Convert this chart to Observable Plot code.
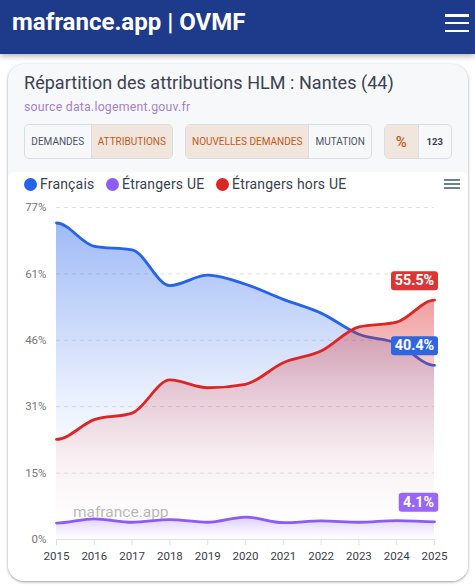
<!DOCTYPE html>
<html lang="fr">
<head>
<meta charset="utf-8">
<script src="https://cdn.jsdelivr.net/npm/d3@7"></script>
<script src="https://cdn.jsdelivr.net/npm/@observablehq/plot@0.6"></script>
<style>
html,body{margin:0;padding:0;background:#fff;width:475px;height:586px;overflow:hidden;font-family:Roboto,sans-serif}
#header{position:absolute;left:0;top:0;width:475px;height:54px;background:#1e3a8a;box-shadow:0 2px 6px rgba(0,0,0,.3);z-index:3}
#brand{position:absolute;left:12px;top:7px;font-size:24px;line-height:30px;font-weight:700;color:#fff}
.bars{position:absolute;display:flex;flex-direction:column;justify-content:space-between}
.bars i{display:block}
#burger{left:445px;top:14px;width:24px;height:18px}
#burger i{height:2.5px;background:#fff}
#card{position:absolute;left:8px;top:64px;width:460px;height:517px;border-radius:16px;background:#f7f8fa;box-shadow:0 1px 3px rgba(0,0,0,.4);overflow:hidden}
#chartbg{position:absolute;left:0;top:108px;width:460px;height:409px;background:#fff;border-radius:6px 6px 0 0}
#title{position:absolute;left:24px;top:71px;font-size:18px;line-height:24px;letter-spacing:.04px;color:#3b4252;white-space:nowrap}
#source{position:absolute;left:24px;top:99px;font-size:12.3px;line-height:16px;letter-spacing:.22px;color:#a67fd0;white-space:nowrap}
.grp{position:absolute;top:124px;height:35px;box-sizing:border-box;border:1px solid #d9dce1;border-radius:5px;display:flex;overflow:hidden}
.grp span{display:flex;align-items:center;justify-content:center;height:100%;font-size:10px;color:#4b5563;box-sizing:border-box}
.grp span.on{background:#f0e6dd;color:#c2591a}
.grp span+span{border-left:1px solid #d9dce1}
#legend{position:absolute;left:0;top:175px;height:18px;font-size:14px;line-height:18px;color:#374151;letter-spacing:.18px}
.li{position:absolute;top:0;white-space:nowrap;padding-left:16px}
.li b{position:absolute;left:0;top:2.5px;width:13px;height:13px;border-radius:50%}
#menu{left:444px;top:179px;width:16px;height:10px}
#menu i{height:1.6px;background:#6e8192}
#chart{position:absolute;left:0;top:195px;z-index:2}
#chart svg{display:block;overflow:visible}
</style>
</head>
<body>
<div id="card"><div id="chartbg"></div></div>
<div id="header"><div id="brand">mafrance.app | OVMF</div><div id="burger" class="bars"><i></i><i></i><i></i></div></div>
<div id="title">Répartition des attributions HLM : Nantes (44)</div>
<div id="source">source data.logement.gouv.fr</div>
<div class="grp" style="left:24px;width:149px"><span style="width:66px">DEMANDES</span><span class="on" style="width:82px">ATTRIBUTIONS</span></div>
<div class="grp" style="left:185px;width:187px"><span class="on" style="width:123px">NOUVELLES DEMANDES</span><span style="width:63px">MUTATION</span></div>
<div class="grp" style="left:384px;width:68px"><span class="on" style="width:33px;font-size:15px;font-weight:500">%</span><span style="width:34px;font-size:9.5px;font-weight:700;color:#374151">123</span></div>
<div id="legend">
  <div class="li" style="left:24px"><b style="background:#2563eb"></b>Français</div>
  <div class="li" style="left:106px"><b style="background:#8b5cf6"></b>Étrangers UE</div>
  <div class="li" style="left:216px"><b style="background:#dc2626"></b>Étrangers hors UE</div>
</div>
<div id="menu" class="bars"><i></i><i></i><i></i></div>
<div id="chart"></div>
<script>
const years = [2015,2016,2017,2018,2019,2020,2021,2022,2023,2024,2025];
const francais = [73.4,68.0,67.2,58.9,61.3,59.2,55.7,52.5,47.6,45.5,40.4];
const etrangersUE = [3.8,4.8,4.0,4.6,4.0,5.2,3.9,4.3,4.0,4.4,4.1];
const etrangersHorsUE = [23.2,27.8,29.3,37.0,35.2,36.0,41.0,43.7,49.3,50.4,55.5];
const yTicks = [0,15.4,30.8,46.2,61.6,77];
const yTickLabels = ["0%","15%","31%","46%","61%","77%"];
const BLUE="#2563eb", PURPLE="#8b5cf6", RED="#dc2626";

const toRows = vals => years.map((year,i)=>({year,value:vals[i]}));
const last = vals => [{year:years[years.length-1],value:vals[vals.length-1]}];

// Monotone cubic curve whose two end tangents are horizontal.
function flatEndMonotone(context){
  let xs,ys,line;
  return {
    areaStart(){line=0;},
    areaEnd(){line=NaN;},
    lineStart(){xs=[];ys=[];},
    point(x,y){xs.push(+x);ys.push(+y);},
    lineEnd(){
      const n=xs.length;
      if(n){
        const m=new Array(n).fill(0);
        for(let i=1;i<n-1;i++){
          const h0=xs[i]-xs[i-1],h1=xs[i+1]-xs[i];
          const s0=(ys[i]-ys[i-1])/h0,s1=(ys[i+1]-ys[i])/h1;
          const p=(s0*h1+s1*h0)/(h0+h1);
          m[i]=(Math.sign(s0)+Math.sign(s1))*Math.min(Math.abs(s0),Math.abs(s1),.5*Math.abs(p));
        }
        if(line) context.lineTo(xs[0],ys[0]); else context.moveTo(xs[0],ys[0]);
        for(let i=1;i<n;i++){
          const h=(xs[i]-xs[i-1])/3;
          context.bezierCurveTo(xs[i-1]+h,ys[i-1]+m[i-1]*h,xs[i]-h,ys[i]-m[i]*h,xs[i],ys[i]);
        }
      }
      if(line===1) context.closePath();
      line=1-line;
    }
  };
}
function badge(w,h,rad){
  return {draw(ctx){
    const x=-w/2,y=-h/2;
    ctx.moveTo(x+rad,y);
    ctx.lineTo(x+w-rad,y);ctx.arcTo(x+w,y,x+w,y+rad,rad);
    ctx.lineTo(x+w,y+h-rad);ctx.arcTo(x+w,y+h,x+w-rad,y+h,rad);
    ctx.lineTo(x+rad,y+h);ctx.arcTo(x,y+h,x,y+h-rad,rad);
    ctx.lineTo(x,y+rad);ctx.arcTo(x,y,x+rad,y,rad);
    ctx.closePath();
  }};
}
function defs(){
  const d=d3.create("svg:defs");
  [["gB",BLUE,[[0,.44],[.35,.22],[.55,.1],[.75,.02],[1,0]]],
   ["gP",PURPLE,[[0,.3],[.5,.12],[1,0]]],
   ["gR",RED,[[0,.44],[.35,.2],[.65,.06],[.85,.012],[1,0]]]].forEach(([id,c,stops])=>{
    const g=d.append("linearGradient").attr("id",id).attr("x1",0).attr("y1",0).attr("x2",0).attr("y2",1);
    stops.forEach(([o,a])=>g.append("stop").attr("offset",o).attr("stop-color",c).attr("stop-opacity",a));
  });
  return d.node();
}
function series(vals,color,grad){
  const rows=toRows(vals);
  return [
    Plot.areaY(rows,{x:"year",y:"value",curve:flatEndMonotone,fill:`url(#${grad})`}),
    Plot.lineY(rows,{x:"year",y:"value",curve:flatEndMonotone,stroke:color,strokeWidth:2.8})
  ];
}
function label(vals,fill,w,dx){
  const rows=last(vals);
  return [
    Plot.dot(rows,{x:"year",y:"value",symbol:badge(w,19,3),r:5,fill,stroke:null,dx,dy:-19.5}),
    Plot.text(rows,{x:"year",y:"value",text:d=>d.value.toFixed(1)+"%",fill:"#fff",fontWeight:700,fontSize:14.3,dx,dy:-19.5})
  ];
}

const plot = Plot.plot({
  width:475,height:380,
  marginLeft:56,marginRight:41,marginTop:12,marginBottom:36,
  style:{background:"transparent",fontFamily:"Roboto,sans-serif",overflow:"visible"},
  x:{domain:[2015,2025],label:null},
  y:{domain:[0,77],label:null,axis:null},
  marks:[
    defs,
    Plot.gridY(yTicks,{stroke:"#e0e0e0",strokeOpacity:1,strokeDasharray:"4 4"}),
    Plot.text(yTicks,{x:2015,y:d=>d,text:(d,i)=>yTickLabels[i],textAnchor:"end",dx:-10,fill:"#777",fontSize:11.5}),
    Plot.ruleY([0],{stroke:"#e0e0e0",strokeWidth:1.2}),
    Plot.axisX({ticks:years,tickFormat:d=>String(d),tickSize:6,stroke:"#e0e0e0",fill:"#373d4a",fontSize:11.5,tickPadding:6,label:null}),
    ...series(francais,BLUE,"gB"),
    ...series(etrangersUE,PURPLE,"gP"),
    ...series(etrangersHorsUE,RED,"gR"),
    Plot.text(["mafrance.app"],{x:2016.7,y:6.4,text:d=>d,fill:"#888",fillOpacity:.6,fontSize:15.5,textAnchor:"middle"}),
    ...label(etrangersHorsUE,"#dc3535",47,-20),
    ...label(francais,"#2f66e0",47,-20),
    ...label(etrangersUE,"#9a66f5",39.5,-16)
  ]
});
document.getElementById("chart").appendChild(plot);
</script>
</body>
</html>
